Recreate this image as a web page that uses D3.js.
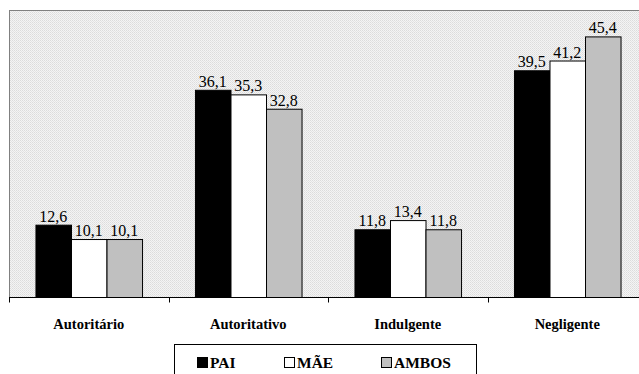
<!DOCTYPE html>
<html><head><meta charset="utf-8">
<script src="https://cdn.jsdelivr.net/npm/d3@7"></script>
<style>body{margin:0;background:#fff}svg{display:block}text{font-family:"Liberation Serif","Times New Roman",Times,"DejaVu Serif",serif}</style>
</head><body>
<svg id="c" width="639" height="374"></svg>
<script>
const categories = ["Autoritário", "Autoritativo", "Indulgente", "Negligente"];
const seriesNames = ["PAI", "MÃE", "AMBOS"];
const pai = [12.6, 36.1, 11.8, 39.5];
const mae = [10.1, 35.3, 13.4, 41.2];
const ambos = [10.1, 32.8, 11.8, 45.4];
const seriesValues = [pai, mae, ambos];
const colors = ["#000000", "#ffffff", "#c0c0c0"];
const yDomain = [0, 50];

const svg = d3.select("#c");
const pLeft = 9, pRight = 647, pTop = 10, pBottom = 297;

const defs = svg.append("defs");
const pat = defs.append("pattern").attr("id", "dots").attr("width", 2).attr("height", 2).attr("patternUnits", "userSpaceOnUse");
pat.append("rect").attr("width", 2).attr("height", 2).attr("fill", "#f4f4f4");
pat.append("rect").attr("x", 0).attr("y", 0).attr("width", 1).attr("height", 1).attr("fill", "#dcdcdc");
pat.append("rect").attr("x", 1).attr("y", 1).attr("width", 1).attr("height", 1).attr("fill", "#e4e4e4");

const x0 = d3.scaleBand().domain(categories).range([pLeft, pRight]).paddingInner(0).paddingOuter(0);
const x1 = d3.scaleBand().domain(seriesNames).range([0, x0.bandwidth()]).paddingOuter(0.745).paddingInner(0);
const y = d3.scaleLinear().domain(yDomain).range([pBottom, pTop]);

svg.append("rect").attr("x", pLeft).attr("y", pTop).attr("width", pRight - pLeft).attr("height", pBottom - pTop)
  .attr("fill", "url(#dots)");
svg.append("line").attr("x1", pLeft).attr("x2", pRight).attr("y1", pTop + 0.5).attr("y2", pTop + 0.5).attr("stroke", "#808080");
svg.append("line").attr("x1", pLeft + 0.5).attr("x2", pLeft + 0.5).attr("y1", pTop).attr("y2", pBottom).attr("stroke", "#808080");

const groups = svg.append("g").selectAll("g").data(categories).join("g")
  .attr("transform", d => `translate(${x0(d)},0)`);
groups.each(function(cat, ci) {
  const g = d3.select(this);
  seriesNames.forEach((s, si) => {
    const v = seriesValues[si][ci];
    g.append("rect").attr("x", x1(s) + 0.5).attr("y", y(v) + 0.5)
      .attr("width", x1.bandwidth()).attr("height", y(0) - y(v))
      .attr("fill", colors[si]).attr("stroke", "#000").attr("stroke-width", 1);
    g.append("text").attr("x", x1(s) + x1.bandwidth() / 2).attr("y", y(v) - 3)
      .attr("text-anchor", "middle")
      .attr("font-size", 16).attr("fill", "#000").text(v.toFixed(1).replace(".", ","));
  });
});

const xAxis = d3.axisBottom(x0).tickSize(0).tickFormat("");
const ax = svg.append("g").attr("transform", `translate(0,${pBottom + 0.5})`).call(xAxis);
ax.attr("font-family", null);
ax.select(".domain").attr("stroke", "#000").attr("d", `M${pLeft},0H${pRight}`);
const bounds = categories.map(c => x0(c)).concat([pRight]);
ax.selectAll(".bt").data(bounds).join("line").attr("class", "bt")
  .attr("x1", d => Math.round(d) + 0.5).attr("x2", d => Math.round(d) + 0.5).attr("y1", 0).attr("y2", 5).attr("stroke", "#000");

svg.append("g").selectAll("text").data(categories).join("text")
  .attr("x", d => x0(d) + x0.bandwidth() / 2).attr("y", 329)
  .attr("text-anchor", "middle")
  .attr("font-weight", "bold").attr("font-size", 14.5).text(d => d);

// Legend
const lg = svg.append("g");
lg.append("rect").attr("x", 174.5).attr("y", 344.5).attr("width", 302).attr("height", 40)
  .attr("fill", "#fff").attr("stroke", "#000");
const legX = [197, 284, 381];
seriesNames.forEach((s, i) => {
  lg.append("rect").attr("x", legX[i] + 0.5).attr("y", 357.5).attr("width", 10).attr("height", 10)
    .attr("fill", colors[i]).attr("stroke", "#000");
  lg.append("text").attr("x", legX[i] + 13).attr("y", 368)
    .attr("font-weight", "bold").attr("font-size", 15.5).text(s);
});
</script>
</body></html>
